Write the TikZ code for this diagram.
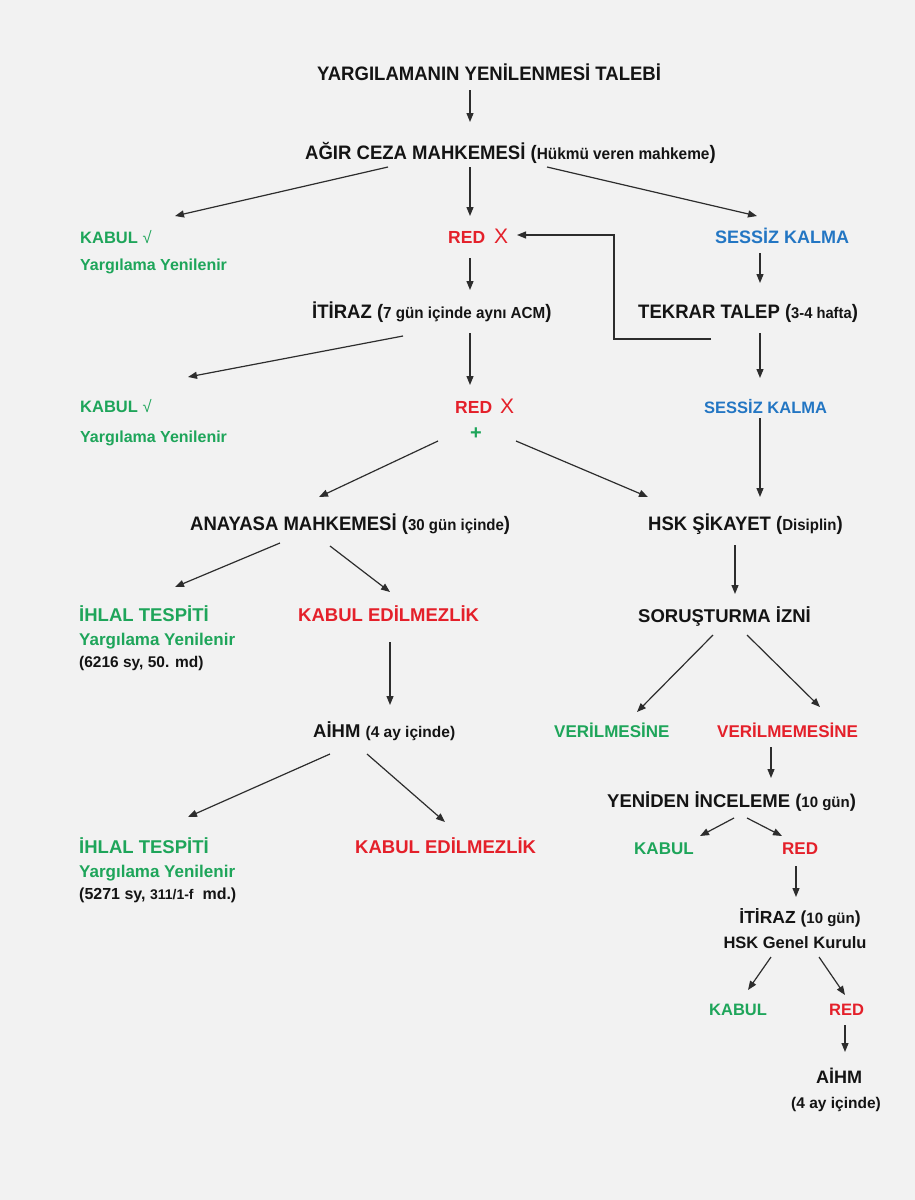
\documentclass[tikz,border=0pt]{standalone}
\usepackage{fontspec}
\setmainfont{Liberation Sans}
\newfontfamily\narfont[FakeStretch=0.95]{Liberation Sans}
\usetikzlibrary{arrows.meta}
\definecolor{bg}{RGB}{242,242,242}
\definecolor{cgreen}{RGB}{30,165,90}
\definecolor{cred}{RGB}{228,32,42}
\definecolor{cblue}{RGB}{35,118,195}
\definecolor{cblack}{RGB}{20,20,20}
\definecolor{cline}{RGB}{45,45,45}
\newcommand\fsz[1]{\fontsize{#1}{#1}\selectfont}
\begin{document}
\begin{tikzpicture}[x=1pt,y=-1pt,
  txt/.style={inner sep=0pt, anchor=base west, font=\bfseries, text=cblack},
  ntxt/.style={txt, font=\narfont\bfseries},
  ctxt/.style={txt, anchor=base},
  gtxt/.style={txt, text=cgreen},
  rtxt/.style={txt, text=cred},
  btxt/.style={txt, text=cblue},
  arr/.style={draw=cline, line width=1.2pt, -{Triangle[length=9pt,width=7pt]}}]
\fill[bg] (0,0) rectangle (915,1200);
\useasboundingbox (0,0) rectangle (915,1200);

\node[ntxt] (title) at (317,80) {\fsz{19.5}YARGILAMANIN YENİLENMESİ TALEBİ};
\node[ntxt] (acm) at (305,159) {\fsz{19.5}AĞIR CEZA MAHKEMESİ ({\fsz{16.2}Hükmü veren mahkeme})};
\node[gtxt] (kab1) at (80,243) {\fsz{16.5}KABUL {\mdseries √}};
\node[gtxt] (yy1) at (80,270) {\fsz{16}Yargılama Yenilenir};
\node[rtxt] (red1) at (448,243) {\fsz{17.5}RED\hspace{9pt}{\mdseries\fsz{21}X}};
\node[btxt] (ses1) at (715,243) {\fsz{18}SESSİZ KALMA};
\node[ntxt] (itz) at (312,318) {\fsz{19.5}İTİRAZ ({\fsz{16}7 gün içinde aynı ACM})};
\node[ntxt] (tt) at (638,318) {\fsz{19.5}TEKRAR TALEP ({\fsz{15.5}3-4 hafta})};
\node[gtxt] (kab2) at (80,412) {\fsz{16.5}KABUL {\mdseries √}};
\node[gtxt] (yy2) at (80,442) {\fsz{16}Yargılama Yenilenir};
\node[rtxt] (red2) at (455,413) {\fsz{17.5}RED\hspace{8pt}{\mdseries\fsz{21}X}};
\node[inner sep=0pt, text=cgreen, font=\bfseries] (plus) at (476,434) {\fsz{20}+};
\node[btxt] (ses2) at (704,413) {\fsz{16.5}SESSİZ KALMA};
\node[ntxt] (ana) at (190,530) {\fsz{19.5}ANAYASA MAHKEMESİ ({\fsz{15.8}30 gün içinde})};
\node[ntxt] (hsk) at (648,530) {\fsz{19.5}HSK ŞİKAYET ({\fsz{15.8}Disiplin})};
\node[gtxt] (ih1) at (79,621) {\fsz{18.5}İHLAL TESPİTİ};
\node[gtxt] (yy3) at (79,645) {\fsz{17}Yargılama Yenilenir};
\node[txt] (law1) at (79,667) {\fsz{15.5}(6216 sy, 50. md)};
\node[rtxt] (ke1) at (298,621) {\fsz{18.5}KABUL EDİLMEZLİK};
\node[txt] (sor) at (638,622) {\fsz{18.5}SORUŞTURMA İZNİ};
\node[txt] (aihm1) at (313,737) {\fsz{18.5}AİHM {\fsz{15.5}(4 ay içinde)}};
\node[gtxt] (ver) at (554,737) {\fsz{17}VERİLMESİNE};
\node[rtxt] (verme) at (717,737) {\fsz{17}VERİLMEMESİNE};
\node[txt] (yen) at (607,807) {\fsz{18.5}YENİDEN İNCELEME ({\fsz{15}10 gün})};
\node[gtxt] (ih2) at (79,853) {\fsz{18.5}İHLAL TESPİTİ};
\node[gtxt] (yy4) at (79,877) {\fsz{17}Yargılama Yenilenir};
\node[txt] (law2) at (79,899) {\fsz{16}(5271 sy, {\fsz{14}311/1-f}\ \ md.)};
\node[rtxt] (ke2) at (355,853) {\fsz{18.5}KABUL EDİLMEZLİK};
\node[gtxt] (kabr) at (634,854) {\fsz{17}KABUL};
\node[rtxt] (redr) at (782,854) {\fsz{17}RED};
\node[ctxt] (itz2) at (800,923) {\fsz{17.5}İTİRAZ ({\fsz{15}10 gün})};
\node[ctxt] (hgk) at (795,948) {\fsz{16.5}HSK Genel Kurulu};
\node[gtxt] (kabr2) at (709,1015) {\fsz{16.5}KABUL};
\node[rtxt] (redr2) at (829,1015) {\fsz{16.5}RED};
\node[ctxt] (aihm2) at (839,1083) {\fsz{18}AİHM};
\node[ctxt] (ay2) at (836,1108) {\fsz{15.5}(4 ay içinde)};

% connectors
\draw[arr] ([shift={(153,10)}]title.base west) -- ([shift={(165,-37)}]acm.base west);
\draw[arr] ([shift={(83,8)}]acm.base west) -- ([shift={(95,-27)}]kab1.base west);
\draw[arr] ([shift={(165,8)}]acm.base west) -- ([shift={(22,-27)}]red1.base west);
\draw[arr] ([shift={(242,8)}]acm.base west) -- ([shift={(42,-27)}]ses1.base west);
\draw[arr] ([shift={(22,15)}]red1.base west) -- ([shift={(158,-28)}]itz.base west);
\draw[arr] ([shift={(45,10)}]ses1.base west) -- ([shift={(122,-35)}]tt.base west);
\draw[arr] ([shift={(73,21)}]tt.base west) -| ([shift={(166,-8)}]red1.base west) -- ([shift={(69,-8)}]red1.base west);
\draw[arr] ([shift={(91,18)}]itz.base west) -- ([shift={(108,-35)}]kab2.base west);
\draw[arr] ([shift={(158,15)}]itz.base west) -- ([shift={(15,-28)}]red2.base west);
\draw[arr] ([shift={(122,15)}]tt.base west) -- ([shift={(56,-35)}]ses2.base west);
\draw[arr] ([shift={(-38,7)}]plus.center) -- ([shift={(129,-33)}]ana.base west);
\draw[arr] ([shift={(40,7)}]plus.center) -- ([shift={(0,-33)}]hsk.base west);
\draw[arr] ([shift={(56,5)}]ses2.base west) -- ([shift={(112,-33)}]hsk.base west);
\draw[arr] ([shift={(90,13)}]ana.base west) -- ([shift={(96,-34)}]ih1.base west);
\draw[arr] ([shift={(140,16)}]ana.base west) -- ([shift={(92,-29)}]ke1.base west);
\draw[arr] ([shift={(87,15)}]hsk.base west) -- ([shift={(97,-28)}]sor.base west);
\draw[arr] ([shift={(92,21)}]ke1.base west) -- ([shift={(77,-32)}]aihm1.base west);
\draw[arr] ([shift={(75,13)}]sor.base west) -- ([shift={(83,-25)}]ver.base west);
\draw[arr] ([shift={(109,13)}]sor.base west) -- ([shift={(103,-30)}]verme.base west);
\draw[arr] ([shift={(54,10)}]verme.base west) -- ([shift={(164,-29)}]yen.base west);
\draw[arr] ([shift={(17,17)}]aihm1.base west) -- ([shift={(109,-36)}]ih2.base west);
\draw[arr] ([shift={(54,17)}]aihm1.base west) -- ([shift={(90,-31)}]ke2.base west);
\draw[arr] ([shift={(127,11)}]yen.base west) -- ([shift={(66,-18)}]kabr.base west);
\draw[arr] ([shift={(140,11)}]yen.base west) -- ([shift={(0,-18)}]redr.base west);
\draw[arr] ([shift={(14,12)}]redr.base west) -- ([shift={(-4,-26)}]itz2.base);
\draw[arr] ([shift={(-24,9)}]hgk.base) -- ([shift={(39,-25)}]kabr2.base west);
\draw[arr] ([shift={(24,9)}]hgk.base) -- ([shift={(16,-20)}]redr2.base west);
\draw[arr] ([shift={(16,10)}]redr2.base west) -- ([shift={(6,-31)}]aihm2.base);
\end{tikzpicture}
\end{document}
